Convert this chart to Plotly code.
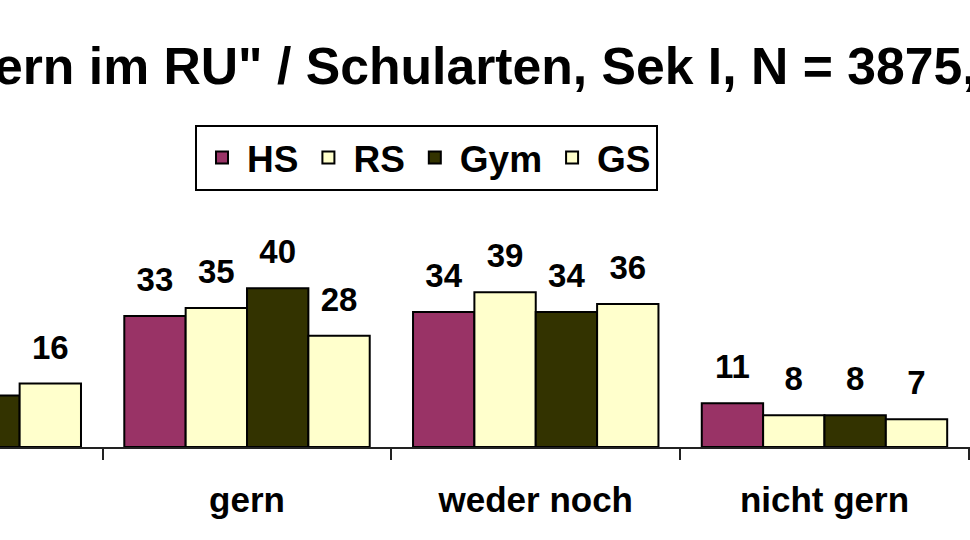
import plotly.graph_objects as go

# ---- data ----
categories = ["sehr gern", "gern", "weder noch", "nicht gern"]
series_names = ["HS", "RS", "Gym", "GS"]
hs_values = [22, 33, 34, 11]
rs_values = [18, 35, 39, 8]
gym_values = [13, 40, 34, 8]
gs_values = [16, 28, 36, 7]
title_text = '"Ich bin gern im RU" / Schularten, Sek I, N = 3875, Angaben in %'

# ---- style ----
colors = ["#993366", "#FFFFCC", "#333300", "#FFFFCC"]
FONT = "Liberation Sans, Arial, sans-serif"
W, H = 970, 540
T, B = 60, 93
plot_h = H - T - B
px_per_unit = 3.97
y_top = plot_h / px_per_unit


def ypaper(px):
    return (H - B - px) / plot_h


fig = go.Figure()
all_values = [hs_values, rs_values, gym_values, gs_values]
for name, vals, col in zip(series_names, all_values, colors):
    fig.add_trace(go.Bar(
        x=categories, y=vals, name=name,
        marker=dict(color=col, line=dict(color="#000000", width=2)),
        hoverinfo="skip",
    ))
for name, vals in zip(series_names, all_values):
    fig.add_trace(go.Scatter(
        x=categories, y=vals, mode="markers+text",
        text=[str(v) for v in vals], textposition="top center",
        textfont=dict(family=FONT, size=33, color="#000000", weight="bold"),
        marker=dict(size=25, color="rgba(0,0,0,0)", line=dict(width=0)),
        showlegend=False, hoverinfo="skip", cliponaxis=False,
    ))

fig.add_annotation(
    text=title_text, xref="paper", yref="paper",
    x=-245 / W, y=ypaper(35), xanchor="left", yanchor="top",
    showarrow=False,
    font=dict(family=FONT, size=51.7, color="#000000", weight="bold"),
)

fig.update_layout(
    width=W, height=H,
    margin=dict(l=0, r=0, t=T, b=B, pad=0),
    paper_bgcolor="#FFFFFF", plot_bgcolor="#FFFFFF",
    barmode="group", bargap=0.15, bargroupgap=0,
    scattermode="group", scattergap=0.15,
    showlegend=True,
    legend=dict(
        orientation="h", x=195 / W, y=ypaper(125),
        xanchor="left", yanchor="top",
        bordercolor="#000000", borderwidth=2, bgcolor="#FFFFFF",
        font=dict(family=FONT, size=37, color="#000000", weight="bold"),
        traceorder="normal", itemwidth=40,
    ),
    xaxis=dict(
        type="category", range=[0.1445, 3.504],
        showline=True, linecolor="#222222", linewidth=2,
        ticks="outside", ticklen=11, tickwidth=2, tickcolor="#222222",
        tickson="boundaries", showgrid=False, zeroline=False,
        ticklabelstandoff=21,
        tickfont=dict(family=FONT, size=35, color="#000000", weight="bold"),
    ),
    yaxis=dict(range=[0, y_top], visible=False, showgrid=False, zeroline=False),
)

fig.write_html(
    "out.html",
    config={"displayModeBar": False, "staticPlot": True},
    post_script="document.body.style.margin='0px';document.body.style.overflow='hidden';",
)
